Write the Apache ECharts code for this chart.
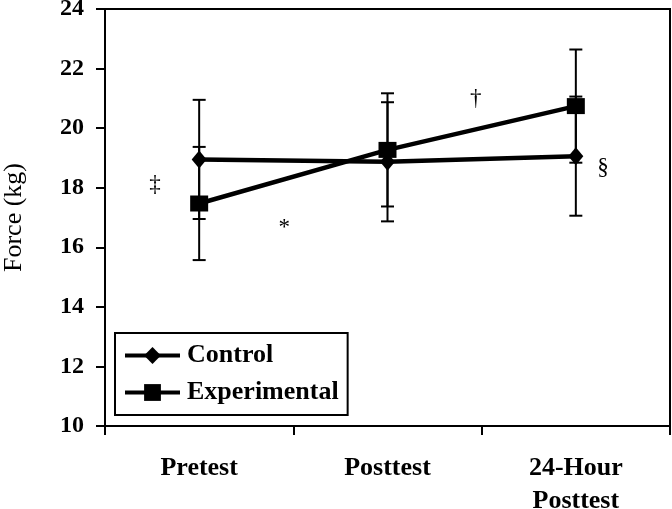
<!DOCTYPE html>
<html>
<head>
<meta charset="utf-8">
<script src="https://cdn.jsdelivr.net/npm/echarts@6/dist/echarts.min.js"></script>
<style>html,body{margin:0;padding:0;background:#fff}#c{width:672px;height:509px}</style>
</head>
<body>
<div id="c"></div>
<script>
// ---- data ----
var categories = ['Pretest', 'Posttest', '24-Hour\nPosttest'];
var controlMean = [18.95, 18.87, 19.06];
var controlSD = [2.0, 2.0, 2.0];
var experimentalMean = [17.47, 19.27, 20.74];
var experimentalSD = [1.9, 1.9, 1.9];
var yTicks = [10, 12, 14, 16, 18, 20, 22, 24];
var annotationText = ['\u2021', '*', '\u2020', '\u00a7'];
var annotationX = [-0.234, 0.452, 1.468, 2.144];
var annotationY = [18.09, 16.64, 20.97, 18.66];

var FONT = 'Liberation Serif';

function errData(mean, sd) {
  return mean.map(function (m, i) { return [i, m - sd[i], m + sd[i]]; });
}
var errorBars = errData(controlMean, controlSD).concat(errData(experimentalMean, experimentalSD));
var annotations = annotationText.map(function (t, i) { return { value: [annotationX[i], annotationY[i]], name: t }; });

var chart = echarts.init(document.getElementById('c'), null, { renderer: 'canvas' });
chart.setOption({
  animation: false,
  backgroundColor: '#fff',
  grid: { left: 105, right: 2, top: 9, bottom: 83, show: true, borderColor: '#000', borderWidth: 2,
    containLabel: false, outerBoundsMode: 'none' },
  xAxis: [{
    type: 'category',
    data: categories,
    boundaryGap: true,
    axisLine: { onZero: false, lineStyle: { color: '#000', width: 2 } },
    axisTick: { show: true, length: 9, lineStyle: { color: '#000', width: 2 } },
    axisLabel: { color: '#000', fontFamily: FONT, fontWeight: 'bold', fontSize: 26, lineHeight: 33, margin: 26, interval: 0 },
    splitLine: { show: false }
  }, {
    type: 'value', min: -0.5, max: 2.5, show: false
  }],
  yAxis: {
    type: 'value',
    min: yTicks[0], max: yTicks[yTicks.length - 1], interval: 2,
    name: 'Force (kg)',
    nameLocation: 'middle',
    nameGap: 78,
    nameTextStyle: { color: '#000', fontFamily: FONT, fontSize: 26 },
    axisLine: { show: true, onZero: false, lineStyle: { color: '#000', width: 2 } },
    axisTick: { show: true, length: 9, lineStyle: { color: '#000', width: 2 } },
    axisLabel: { color: '#000', fontFamily: FONT, fontWeight: 'bold', fontSize: 24, margin: 21 },
    splitLine: { show: false }
  },
  legend: {
    data: ['Control', 'Experimental'],
    orient: 'vertical',
    left: 115, top: 333,
    borderColor: '#000', borderWidth: 2,
    padding: [9, 9, 9, 8],
    itemWidth: 55, itemHeight: 21, itemGap: 10,
    lineStyle: { width: 4, color: '#000' },
    textStyle: { color: '#000', fontFamily: FONT, fontWeight: 'bold', fontSize: 26, lineHeight: 27, padding: [0, 0, 0, 2] },
    backgroundColor: '#fff'
  },
  series: [{
    type: 'custom',
    name: 'err',
    data: errorBars,
    z: 1,
    renderItem: function (params, api) {
      var lo = api.coord([api.value(0), api.value(1)]);
      var hi = api.coord([api.value(0), api.value(2)]);
      var hw = 6.5;
      var st = { stroke: '#000', lineWidth: 2 };
      return { type: 'group', children: [
        { type: 'line', shape: { x1: lo[0], y1: lo[1], x2: hi[0], y2: hi[1] }, style: st },
        { type: 'line', shape: { x1: lo[0] - hw, y1: lo[1], x2: lo[0] + hw, y2: lo[1] }, style: st },
        { type: 'line', shape: { x1: hi[0] - hw, y1: hi[1], x2: hi[0] + hw, y2: hi[1] }, style: st }
      ] };
    }
  }, {
    type: 'line', name: 'Control', data: controlMean,
    symbol: 'diamond', symbolSize: [15, 18],
    lineStyle: { color: '#000', width: 4.5 }, itemStyle: { color: '#000' }, z: 3
  }, {
    type: 'line', name: 'Experimental', data: experimentalMean,
    symbol: 'rect', symbolSize: [18, 16],
    lineStyle: { color: '#000', width: 4.5 }, itemStyle: { color: '#000' }, z: 4
  }, {
    type: 'scatter', name: 'notes', xAxisIndex: 1,
    data: annotations, symbolSize: 0,
    itemStyle: { opacity: 1 },
    label: { show: true, position: 'inside', formatter: function (p) { return p.name; },
      color: '#000', opacity: 1, fontFamily: FONT, fontSize: 23, verticalAlign: 'middle', align: 'center' },
    silent: true
  }]
});
</script>
</body>
</html>
